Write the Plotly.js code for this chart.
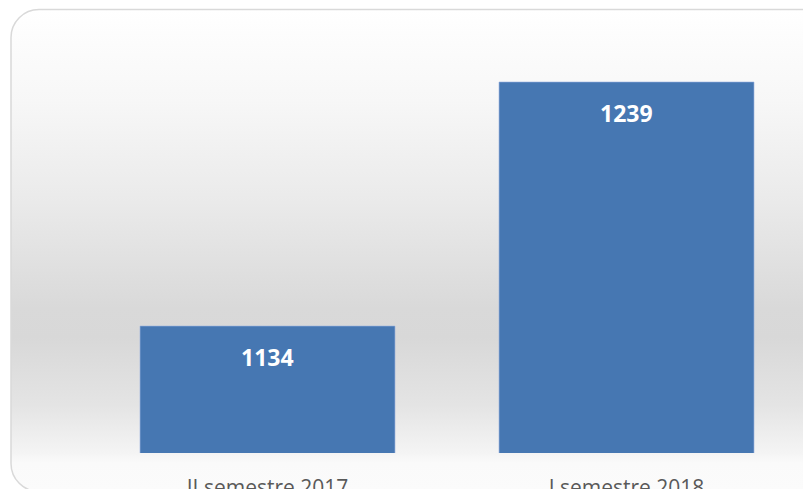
<!DOCTYPE html>
<html>
<head>
<meta charset="utf-8">
<script src="https://cdn.plot.ly/plotly-3.0.1.min.js"></script>
<style>html,body{margin:0;padding:0;background:#fff;}#chart{width:803px;height:489px;}</style>
</head>
<body>
<div id="chart"></div>
<script>
var categories = ["II semestre 2017", "I semestre 2018"];
var values = [1134, 1239];
var valueLabels = ["1134", "1239"];

var bg = '<svg xmlns="http://www.w3.org/2000/svg" width="803" height="489">' +
  '<defs><linearGradient id="g" x1="0" y1="0" x2="0" y2="1">' +
  '<stop offset="0" stop-color="#ffffff"/>' +
  '<stop offset="0.19" stop-color="#f7f7f7"/>' +
  '<stop offset="0.4" stop-color="#eaeaea"/>' +
  '<stop offset="0.62" stop-color="#d9d9d9"/>' +
  '<stop offset="0.68" stop-color="#d8d8d8"/>' +
  '<stop offset="0.82" stop-color="#e4e4e4"/>' +
  '<stop offset="0.92" stop-color="#f4f4f4"/>' +
  '<stop offset="0.94" stop-color="#fafafa"/>' +
  '<stop offset="1" stop-color="#fbfbfb"/>' +
  '</linearGradient></defs>' +
  '<rect x="11" y="9.5" width="820" height="482" rx="28" ry="28" fill="url(#g)" stroke="#d9d9d9" stroke-width="1.5"/>' +
  '</svg>';
var bgUri = 'data:image/svg+xml;charset=utf-8,' + encodeURIComponent(bg);

var trace = {
  type: 'bar',
  x: categories,
  y: values,
  marker: {color: '#4677b2', line: {color: '#8faadc', width: 0.6}},
  hoverinfo: 'none'
};

var annotations = categories.map(function (c, i) {
  return {
    x: c, y: values[i], xref: 'x', yref: 'y',
    text: '<b>' + valueLabels[i] + '</b>',
    showarrow: false, yanchor: 'middle', yshift: -31,
    font: {family: 'Open Sans, sans-serif', size: 23, color: '#ffffff'}
  };
});

var layout = {
  width: 803, height: 489,
  margin: {l: 88, r: 0, t: 20, b: 36, pad: 0},
  paper_bgcolor: 'rgba(0,0,0,0)',
  plot_bgcolor: 'rgba(0,0,0,0)',
  bargap: 0.29,
  showlegend: false,
  xaxis: {
    type: 'category',
    range: [-0.5, 1.4916],
    showgrid: false, zeroline: false, showline: false, ticks: '',
    ticklabelstandoff: 20,
    tickfont: {family: 'Open Sans, sans-serif', size: 21, color: '#595959'},
    fixedrange: true
  },
  yaxis: {
    range: [1079.4, 1265.7],
    showgrid: false, zeroline: false, showline: false, showticklabels: false, ticks: '',
    fixedrange: true
  },
  annotations: annotations,
  images: [{
    source: bgUri, xref: 'paper', yref: 'paper',
    x: -88/715, y: 1 + 20/433, sizex: 803/715, sizey: 489/433,
    xanchor: 'left', yanchor: 'top', sizing: 'stretch', layer: 'below'
  }]
};

Plotly.newPlot('chart', [trace], layout, {staticPlot: true, displayModeBar: false});
</script>
</body>
</html>
